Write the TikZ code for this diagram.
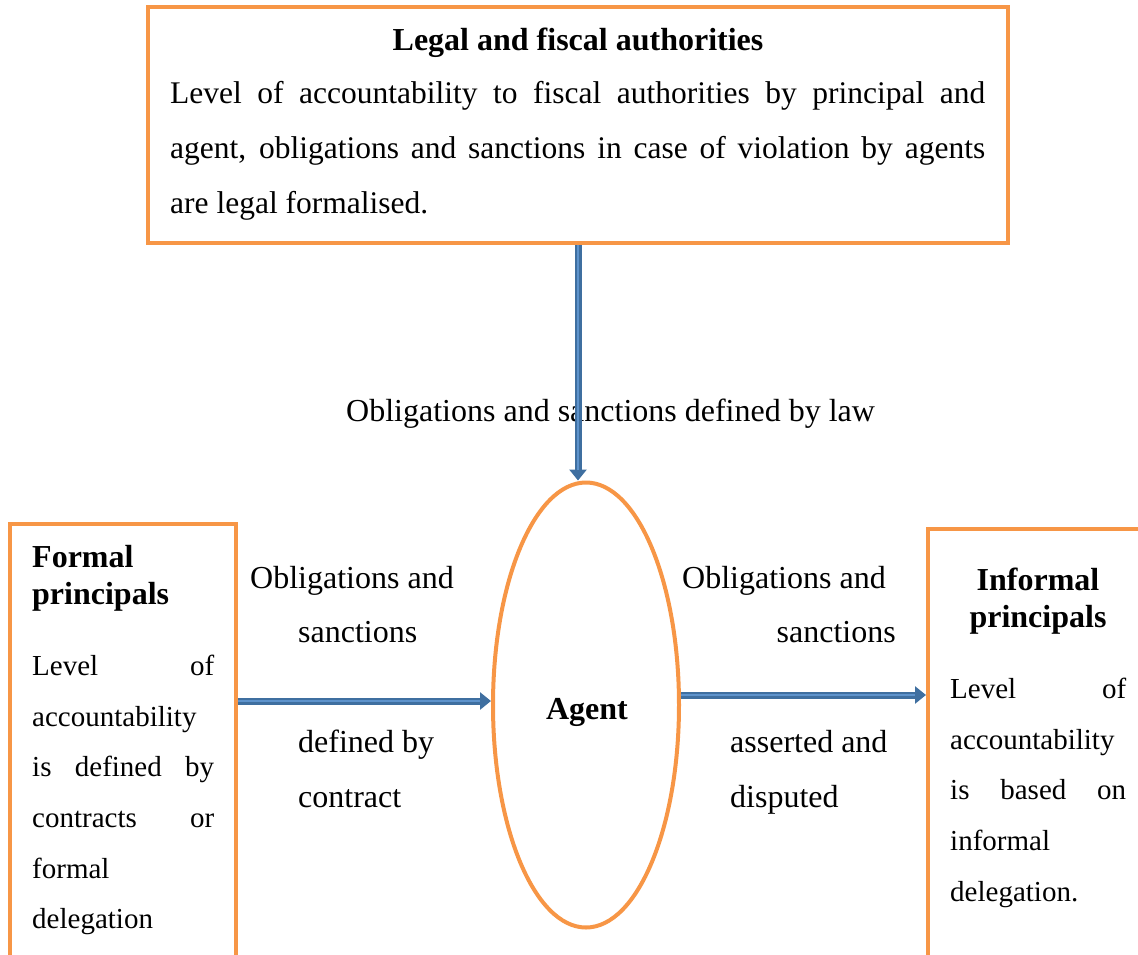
\documentclass[tikz,border=0pt]{standalone}
\usepackage{fontspec}
\setmainfont{Liberation Serif}
\usetikzlibrary{arrows.meta,shapes.geometric}
\definecolor{frame}{HTML}{F79646}
\definecolor{arrowedge}{HTML}{3F6FA0}
\definecolor{arrowfill}{HTML}{5E93CC}
\begin{document}
\begin{tikzpicture}[x=1pt,y=-1pt,
  panel/.style={draw=frame, line width=4pt, rectangle, inner sep=0pt},
  oval/.style={draw=frame, line width=4pt, ellipse, inner sep=0pt},
  txt/.style={anchor=base west, inner sep=0pt, font=\fontsize{32}{38}\selectfont},
  toptxt/.style={txt, font=\fontsize{31.5}{38}\selectfont},
  sidetxt/.style={txt, font=\fontsize{29}{35}\selectfont},
  ctxt/.style={anchor=base, inner sep=0pt, font=\fontsize{32}{38}\selectfont},
  rtxt/.style={anchor=base east, inner sep=0pt, font=\fontsize{32}{38}\selectfont},
  head/.style={ctxt, font=\fontsize{32}{38}\selectfont\bfseries},
  lhead/.style={txt, font=\fontsize{32}{38}\selectfont\bfseries},
  flowedge/.style={draw=arrowedge, line width=7pt, -{Triangle[length=11pt,width=17pt]}},
  flowcore/.style={draw=arrowfill, line width=2.5pt, shorten >=11pt}]
\useasboundingbox (0,0) rectangle (1138,954);
\clip (0,0) rectangle (1138,954);

% frames
\node[panel, minimum width=860pt, minimum height=236pt] (top) at (578,125) {};
\node[panel, minimum width=226pt, minimum height=436pt] (lb) at (123,742) {};
\node[panel, minimum width=222pt, minimum height=441pt] (rb) at (1039,749.5) {};
\node[oval, minimum width=186pt, minimum height=445pt] (agent) at (586,705) {};

% top box text
\node[head] (toptitle) at (578,50) {Legal and fiscal authorities};
\node[toptxt] (t1) at (170,103) {\makebox[815pt][s]{Level of accountability to fiscal authorities by principal and}};
\node[toptxt] (t2) at (170,158) {\makebox[815pt][s]{agent, obligations and sanctions in case of violation by agents}};
\node[toptxt] (t3) at (170,213) {are legal formalised.};

% agent
\node[head] (agentlbl) at (587,719) {Agent};

% labels on the connectors
\node[txt] (law) at (346,421) {Obligations and sanctions defined by law};
\node[txt] (l1) at (250,588) {Obligations and};
\node[txt] (l2) at (298,642) {sanctions};
\node[txt] (l3) at (298,752) {defined by};
\node[txt] (l4) at (298,807) {contract};
\node[txt] (r1) at (682,588) {Obligations and};
\node[rtxt] (r2) at (896,642) {sanctions};
\node[txt] (r3) at (730,752) {asserted and};
\node[txt] (r4) at (730,807) {disputed};

% formal principals
\node[lhead] (fp1) at (32,567) {Formal};
\node[lhead] (fp2) at (32,604) {principals};
\node[sidetxt] (f1) at (32,675) {\makebox[182pt][s]{Level of}};
\node[sidetxt] (f2) at (32,726) {accountability};
\node[sidetxt] (f3) at (32,776) {\makebox[182pt][s]{is defined by}};
\node[sidetxt] (f4) at (32,827) {\makebox[182pt][s]{contracts or}};
\node[sidetxt] (f5) at (32,878) {formal};
\node[sidetxt] (f6) at (32,928) {delegation};

% informal principals
\node[head] (ip1) at (1038,590) {Informal};
\node[head] (ip2) at (1038,627) {principals};
\node[sidetxt] (g1) at (950,698) {\makebox[176pt][s]{Level of}};
\node[sidetxt] (g2) at (950,749) {accountability};
\node[sidetxt] (g3) at (950,799) {\makebox[176pt][s]{is based on}};
\node[sidetxt] (g4) at (950,850) {informal};
\node[sidetxt] (g5) at (950,901) {delegation.};

% connectors
\coordinate (lrow) at (0,701);
\coordinate (rrow) at (0,695);
\draw[flowedge] (top.south) -- (top.south |- agent.north);
\draw[flowcore] (top.south) -- (top.south |- agent.north);
\draw[flowedge] (lb.east |- lrow) -- (agent.west |- lrow);
\draw[flowcore] (lb.east |- lrow) -- (agent.west |- lrow);
\draw[flowedge] (agent.east |- rrow) -- (rb.west |- rrow);
\draw[flowcore] (agent.east |- rrow) -- (rb.west |- rrow);
\end{tikzpicture}
\end{document}
